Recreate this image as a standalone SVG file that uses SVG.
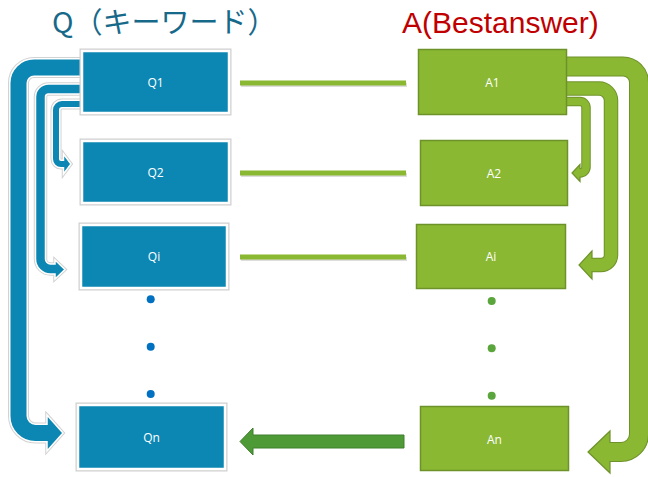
<svg xmlns="http://www.w3.org/2000/svg" width="648" height="477" viewBox="0 0 648 477">
<style>
.title{font-family:"Noto Sans CJK JP","Liberation Sans",sans-serif;font-size:29px}
.lbl{font-family:"Open Sans","Liberation Sans",sans-serif;font-size:12px;fill:#fff;text-anchor:middle;dominant-baseline:central}
.qbox{fill:#0C87B3;stroke:#fff;stroke-width:2.5}
.qsh{fill:none;stroke:#cfcfcf;stroke-width:5}
.abox{fill:#8AB833;stroke:#6E922A;stroke-width:1.5}
.bsh{fill:none;stroke:#d2d2d2;stroke-linejoin:round}
.bwh{fill:none;stroke:#fff;stroke-linejoin:round}
.bfill{fill:none;stroke:#0C87B3}
.bhead{fill:#0C87B3;stroke:#fff;stroke-width:1.5;stroke-linejoin:miter}
.bheadsh{fill:#d2d2d2;stroke:#d2d2d2;stroke-width:3.5}
.gout{fill:none;stroke:#6E922A}
.gfill{fill:none;stroke:#8AB833}
.ghead{fill:#8AB833;stroke:#6E922A;stroke-width:1.2}
.conn{stroke:#8AB833;stroke-width:5}
.connsh{stroke:#c8c8c8;stroke-width:4;opacity:.6}
</style>

<text class="title" x="52" y="33" fill="#17698A">Q（キーワード）</text>
<text x="402" y="33" font-family="'Liberation Sans',sans-serif" font-size="30" fill="#C00000">A(Bestanswer)</text>

<g id="connectors">
  <!-- blue bent arrows -->
  <g id="blue-arrows">
    <path class="bsh" stroke-width="21" d="M 84 67.5 H 34 A 15.5 15.5 0 0 0 18.5 83 V 416 A 17 17 0 0 0 35.5 433 H 48"/>
    <path class="bsh" stroke-width="13.5" d="M 84 89 H 48.5 A 8 8 0 0 0 40.5 97 V 259 A 10 10 0 0 0 50.5 269 H 56"/>
    <path class="bsh" stroke-width="11" d="M 84 104 H 62 A 6 6 0 0 0 56 110 V 159 A 5 5 0 0 0 61 164 H 65"/>
    <polygon class="bheadsh" points="47,415 63,433 47,451"/>
    <polygon class="bheadsh" points="55,260 65,269.5 55,279"/>
    <polygon class="bheadsh" points="63.5,154 71,164 63.5,174"/>
    <path class="bwh" stroke-width="19" d="M 84 67.5 H 34 A 15.5 15.5 0 0 0 18.5 83 V 416 A 17 17 0 0 0 35.5 433 H 48"/>
    <path class="bwh" stroke-width="11.5" d="M 84 89 H 48.5 A 8 8 0 0 0 40.5 97 V 259 A 10 10 0 0 0 50.5 269 H 56"/>
    <path class="bwh" stroke-width="9" d="M 84 104 H 62 A 6 6 0 0 0 56 110 V 159 A 5 5 0 0 0 61 164 H 64.5"/>
    <polygon class="bhead" points="47,415 63,433 47,451"/>
    <polygon class="bhead" points="55,260 65,269.5 55,279"/>
    <polygon class="bhead" points="63.5,154 71,164 63.5,174"/>
    <path class="bfill" stroke-width="16" d="M 84 67.5 H 34 A 15.5 15.5 0 0 0 18.5 83 V 416 A 17 17 0 0 0 35.5 433 H 48.5"/>
    <path class="bfill" stroke-width="8.5" d="M 84 89 H 48.5 A 8 8 0 0 0 40.5 97 V 259 A 10 10 0 0 0 50.5 269 H 56.5"/>
    <path class="bfill" stroke-width="6" d="M 84 104 H 62 A 6 6 0 0 0 56 110 V 159 A 5 5 0 0 0 61 164 H 65.5"/>
  </g>

  <!-- green bent arrows -->
  <g id="green-arrows">
    <path class="gout" stroke-width="20" d="M 566 66.5 H 623 A 16 16 0 0 1 639 82.5 V 434 A 18 18 0 0 1 621 452 H 609"/>
    <path class="gout" stroke-width="14.5" d="M 566 88.5 H 599 A 12 12 0 0 1 611 100.5 V 255 A 10 10 0 0 1 601 265 H 591"/>
    <path class="gout" stroke-width="9.5" d="M 566 101.5 H 580 A 6 6 0 0 1 586 107.5 V 167 A 6 6 0 0 1 580 173 H 579"/>
    <polygon class="ghead" points="610,431 588,452 610,473"/>
    <polygon class="ghead" points="592,251 579,265 592,279"/>
    <polygon class="ghead" points="580,164.5 572,173 580,181.5"/>
    <path class="gfill" stroke-width="18" d="M 566 66.5 H 623 A 16 16 0 0 1 639 82.5 V 434 A 18 18 0 0 1 621 452 H 609"/>
    <path class="gfill" stroke-width="12.5" d="M 566 88.5 H 599 A 12 12 0 0 1 611 100.5 V 255 A 10 10 0 0 1 601 265 H 591"/>
    <path class="gfill" stroke-width="7.5" d="M 566 101.5 H 580 A 6 6 0 0 1 586 107.5 V 167 A 6 6 0 0 1 580 173 H 579"/>
  </g>

  <!-- Q-A connecting lines -->
  <line class="connsh" x1="241" y1="85" x2="407" y2="85"/>
  <line class="connsh" x1="241" y1="175" x2="407" y2="175"/>
  <line class="connsh" x1="241" y1="259" x2="407" y2="259"/>
  <line class="conn" x1="240" y1="83" x2="406" y2="83"/>
  <line class="conn" x1="240" y1="173" x2="406" y2="173"/>
  <line class="conn" x1="240" y1="257" x2="406" y2="257"/>

  <!-- An -> Qn -->
  <polygon points="404,435 253,435 253,428 240,441.5 253,455 253,448 404,448" fill="#4E9A37" stroke="#3F7F2C" stroke-width="1"/>
</g>

<g id="Q1"><rect class="qsh" x="82" y="51" width="147" height="62"/><rect class="qbox" x="82" y="51" width="147" height="62"/><text class="lbl" x="155.5" y="82">Q1</text></g>
<g id="Q2"><rect class="qsh" x="82" y="141" width="147" height="62"/><rect class="qbox" x="82" y="141" width="147" height="62"/><text class="lbl" x="155.5" y="172">Q2</text></g>
<g id="Qi"><rect class="qsh" x="81" y="225" width="146" height="63"/><rect class="qbox" x="81" y="225" width="146" height="63"/><text class="lbl" x="154" y="256">Qi</text></g>
<g id="Qn"><rect class="qsh" x="78" y="405" width="147" height="64"/><rect class="qbox" x="78" y="405" width="147" height="64"/><text class="lbl" x="151.5" y="437">Qn</text></g>

<g id="A1"><rect class="abox" x="418.5" y="49.5" width="148" height="65"/><text class="lbl" x="492.5" y="82">A1</text></g>
<g id="A2"><rect class="abox" x="420.5" y="140.5" width="147" height="65"/><text class="lbl" x="494" y="173">A2</text></g>
<g id="Ai"><rect class="abox" x="416.5" y="224.5" width="149" height="64"/><text class="lbl" x="491" y="256">Ai</text></g>
<g id="An"><rect class="abox" x="420.5" y="406.5" width="148" height="64"/><text class="lbl" x="494.5" y="439">An</text></g>

<g id="dots">
  <circle cx="150.7" cy="299.3" r="4" fill="#0070C0"/>
  <circle cx="150.7" cy="346.7" r="4" fill="#0070C0"/>
  <circle cx="150.7" cy="394" r="4" fill="#0070C0"/>
  <circle cx="491.7" cy="301" r="4" fill="#5AA53C"/>
  <circle cx="491.7" cy="348.3" r="4" fill="#5AA53C"/>
  <circle cx="491.7" cy="395.7" r="4" fill="#5AA53C"/>
</g>
</svg>
